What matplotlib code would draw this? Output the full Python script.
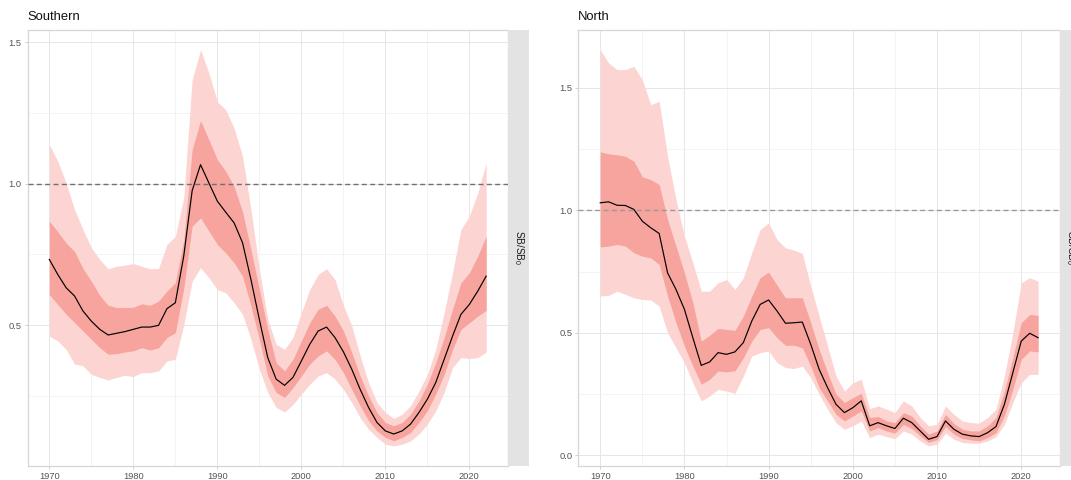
import numpy as np
import matplotlib
matplotlib.use("Agg")
import matplotlib.pyplot as plt
from matplotlib.ticker import MultipleLocator

plt.rcParams['font.family'] = ['Liberation Sans', 'DejaVu Sans']

years = list(range(1970, 2023))

# ---- Southern stock: spawning biomass relative to unfished (SB/SB0) ----
south_median = [
    0.732, 0.679, 0.632, 0.603, 0.550, 0.514, 0.485, 0.465, 0.471, 0.477,
    0.485, 0.493, 0.493, 0.499, 0.558, 0.579, 0.744, 0.975, 1.067, 1.002,
    0.938, 0.899, 0.861, 0.791, 0.661, 0.520, 0.385, 0.309, 0.287, 0.315,
    0.373, 0.432, 0.479, 0.493, 0.456, 0.406, 0.344, 0.273, 0.209, 0.156,
    0.126, 0.115, 0.126, 0.150, 0.191, 0.238, 0.297, 0.379, 0.461, 0.538,
    0.573, 0.620, 0.673]
south_q25 = [
    0.608, 0.573, 0.538, 0.509, 0.479, 0.450, 0.420, 0.397, 0.399, 0.405,
    0.409, 0.420, 0.412, 0.420, 0.456, 0.473, 0.630, 0.850, 0.879, 0.832,
    0.785, 0.755, 0.720, 0.673, 0.567, 0.450, 0.320, 0.262, 0.244, 0.279,
    0.320, 0.362, 0.391, 0.409, 0.379, 0.332, 0.273, 0.215, 0.162, 0.126,
    0.103, 0.091, 0.103, 0.120, 0.156, 0.197, 0.256, 0.326, 0.414, 0.485,
    0.508, 0.532, 0.552]
south_q75 = [
    0.867, 0.830, 0.790, 0.760, 0.700, 0.655, 0.605, 0.570, 0.562, 0.562,
    0.563, 0.575, 0.570, 0.585, 0.620, 0.650, 0.800, 1.120, 1.223, 1.155,
    1.085, 1.044, 0.990, 0.900, 0.767, 0.626, 0.485, 0.367, 0.338, 0.379,
    0.444, 0.508, 0.556, 0.570, 0.532, 0.480, 0.403, 0.320, 0.250, 0.191,
    0.156, 0.144, 0.156, 0.185, 0.232, 0.291, 0.367, 0.456, 0.556, 0.650,
    0.685, 0.744, 0.814]
south_q05 = [
    0.461, 0.444, 0.414, 0.362, 0.356, 0.326, 0.315, 0.306, 0.315, 0.323,
    0.318, 0.332, 0.332, 0.338, 0.373, 0.379, 0.500, 0.655, 0.703, 0.667,
    0.626, 0.614, 0.579, 0.538, 0.450, 0.344, 0.262, 0.209, 0.193, 0.220,
    0.256, 0.291, 0.320, 0.332, 0.309, 0.273, 0.226, 0.173, 0.132, 0.103,
    0.079, 0.073, 0.079, 0.091, 0.115, 0.150, 0.197, 0.262, 0.350, 0.385,
    0.382, 0.385, 0.405]
south_q95 = [
    1.138, 1.079, 1.002, 0.908, 0.838, 0.773, 0.732, 0.699, 0.708, 0.712,
    0.717, 0.708, 0.699, 0.700, 0.785, 0.814, 0.950, 1.367, 1.473, 1.390,
    1.290, 1.261, 1.196, 1.096, 0.908, 0.697, 0.520, 0.432, 0.414, 0.456,
    0.544, 0.626, 0.679, 0.699, 0.661, 0.570, 0.497, 0.391, 0.297, 0.226,
    0.191, 0.170, 0.185, 0.215, 0.267, 0.326, 0.414, 0.544, 0.685, 0.838,
    0.885, 0.967, 1.073]

# ---- North stock ----
north_median = [
    1.031, 1.035, 1.021, 1.020, 1.004, 0.956, 0.929, 0.906, 0.745, 0.677,
    0.596, 0.480, 0.367, 0.381, 0.419, 0.412, 0.422, 0.460, 0.548, 0.616,
    0.634, 0.589, 0.539, 0.541, 0.544, 0.453, 0.351, 0.276, 0.208, 0.174,
    0.194, 0.222, 0.120, 0.133, 0.120, 0.109, 0.151, 0.133, 0.099, 0.065,
    0.076, 0.140, 0.106, 0.086, 0.079, 0.076, 0.092, 0.117, 0.208, 0.337,
    0.466, 0.498, 0.480]
north_q25 = [
    0.851, 0.854, 0.861, 0.854, 0.827, 0.813, 0.806, 0.779, 0.650, 0.541,
    0.446, 0.364, 0.290, 0.310, 0.344, 0.340, 0.345, 0.398, 0.466, 0.514,
    0.521, 0.480, 0.449, 0.449, 0.439, 0.364, 0.276, 0.222, 0.167, 0.140,
    0.160, 0.181, 0.099, 0.113, 0.099, 0.090, 0.126, 0.109, 0.079, 0.052,
    0.063, 0.117, 0.086, 0.068, 0.063, 0.058, 0.072, 0.092, 0.160, 0.269,
    0.392, 0.426, 0.422]
north_q75 = [
    1.239, 1.231, 1.227, 1.221, 1.201, 1.137, 1.126, 1.106, 0.963, 0.854,
    0.745, 0.623, 0.466, 0.490, 0.518, 0.514, 0.510, 0.568, 0.650, 0.725,
    0.748, 0.694, 0.643, 0.643, 0.643, 0.541, 0.432, 0.337, 0.249, 0.215,
    0.235, 0.253, 0.154, 0.158, 0.140, 0.133, 0.174, 0.160, 0.120, 0.086,
    0.099, 0.167, 0.129, 0.106, 0.099, 0.099, 0.120, 0.154, 0.262, 0.398,
    0.541, 0.575, 0.571]
north_q05 = [
    0.650, 0.653, 0.670, 0.657, 0.643, 0.636, 0.634, 0.609, 0.500, 0.439,
    0.378, 0.296, 0.222, 0.242, 0.269, 0.262, 0.253, 0.324, 0.405, 0.419,
    0.426, 0.378, 0.358, 0.354, 0.364, 0.317, 0.249, 0.188, 0.133, 0.106,
    0.120, 0.140, 0.072, 0.086, 0.076, 0.068, 0.099, 0.086, 0.058, 0.038,
    0.045, 0.090, 0.065, 0.052, 0.049, 0.049, 0.058, 0.076, 0.126, 0.215,
    0.296, 0.330, 0.330]
north_q95 = [
    1.656, 1.602, 1.575, 1.575, 1.588, 1.534, 1.432, 1.446, 1.221, 1.044,
    0.895, 0.786, 0.670, 0.670, 0.704, 0.718, 0.677, 0.725, 0.827, 0.922,
    0.949, 0.881, 0.847, 0.838, 0.824, 0.691, 0.568, 0.446, 0.324, 0.262,
    0.296, 0.310, 0.190, 0.201, 0.188, 0.174, 0.222, 0.201, 0.154, 0.120,
    0.126, 0.201, 0.167, 0.140, 0.133, 0.131, 0.154, 0.188, 0.324, 0.500,
    0.704, 0.725, 0.711]

panel_titles = ["Southern", "North"]
strip_label = r"SB/SB$_\mathregular{0}$"
reference_level = 1.0
x_breaks = [1970, 1980, 1990, 2000, 2010, 2020]

OUTER = "#fcd4d1"
INNER = "#f6a49d"
GRID_MAJOR = "#e6e6e6"
GRID_MINOR = "#f1f1f1"
BORDER = "#d6d6d6"
STRIP_BG = "#e3e3e3"
TICK_TXT = "#555555"

W, H = 1071, 480
fig = plt.figure(figsize=(W / 100, H / 100), dpi=100)


def px_axes(x0, x1, y0, y1):
    """Axes placed by pixel edges (y measured from the top)."""
    return fig.add_axes([x0 / W, 1 - y1 / H, (x1 - x0) / W, (y1 - y0) / H])


def draw_panel(ax, med, q25, q75, q05, q95, dash_color):
    yrs = np.array(years)
    ax.fill_between(yrs, q05, q95, color=OUTER, lw=0, zorder=2)
    ax.fill_between(yrs, q25, q75, color=INNER, lw=0, zorder=3)
    ax.plot(yrs, med, color="black", lw=0.85, zorder=4)
    ax.axhline(reference_level, color=dash_color, lw=1.0,
               dashes=(3.6, 2.4), zorder=5)

    # ggplot-like 5% expansion of the data range
    xr = yrs.max() - yrs.min()
    ax.set_xlim(yrs.min() - 0.05 * xr, yrs.max() + 0.05 * xr)
    allv = np.concatenate([q05, q95, med, [reference_level]])
    lo, hi = allv.min(), allv.max()
    ax.set_ylim(lo - 0.05 * (hi - lo), hi + 0.05 * (hi - lo))

    ax.set_xticks(x_breaks)
    ax.xaxis.set_minor_locator(MultipleLocator(5))
    ax.yaxis.set_major_locator(MultipleLocator(0.5))
    ax.yaxis.set_minor_locator(MultipleLocator(0.25))
    ax.yaxis.set_major_formatter(matplotlib.ticker.FormatStrFormatter("%.1f"))
    ax.grid(which="major", color=GRID_MAJOR, lw=0.7, zorder=0)
    ax.grid(which="minor", color=GRID_MINOR, lw=0.6, zorder=0)
    ax.set_axisbelow(True)
    ax.tick_params(which="major", length=2.2, width=0.6, color="#c8c8c8",
                   labelsize=6.7, labelcolor=TICK_TXT, pad=2.0)
    ax.tick_params(which="minor", length=0)
    for s in ax.spines.values():
        s.set_color(BORDER)
        s.set_linewidth(0.9)


def draw_strip(x0, x1, y0, y1):
    sax = px_axes(x0, x1, y0, y1)
    sax.set_facecolor(STRIP_BG)
    sax.set_xticks([])
    sax.set_yticks([])
    for s in sax.spines.values():
        s.set_visible(False)
    sax.text(0.5, 0.5, strip_label, rotation=-90, ha="center", va="center",
             fontsize=7.2, color="#1a1a1a", transform=sax.transAxes)


TOP, BOTTOM = 30, 465.7

ax1 = px_axes(27.5, 508, TOP, BOTTOM)
draw_panel(ax1, south_median, south_q25, south_q75, south_q05, south_q95,
           "#707070")
draw_strip(508, 529, TOP, BOTTOM)

ax2 = px_axes(578.3, 1060, TOP, BOTTOM)
draw_panel(ax2, north_median, north_q25, north_q75, north_q05, north_q95,
           "#9a9a9a")
draw_strip(1060, 1081, TOP, BOTTOM)

fig.text(27.5 / W, 1 - 20.5 / H, panel_titles[0], fontsize=9.4,
         color="#111111", ha="left", va="baseline")
fig.text(578.3 / W, 1 - 20.5 / H, panel_titles[1], fontsize=9.4,
         color="#111111", ha="left", va="baseline")

fig.savefig("out.png", dpi=100, facecolor="white")
